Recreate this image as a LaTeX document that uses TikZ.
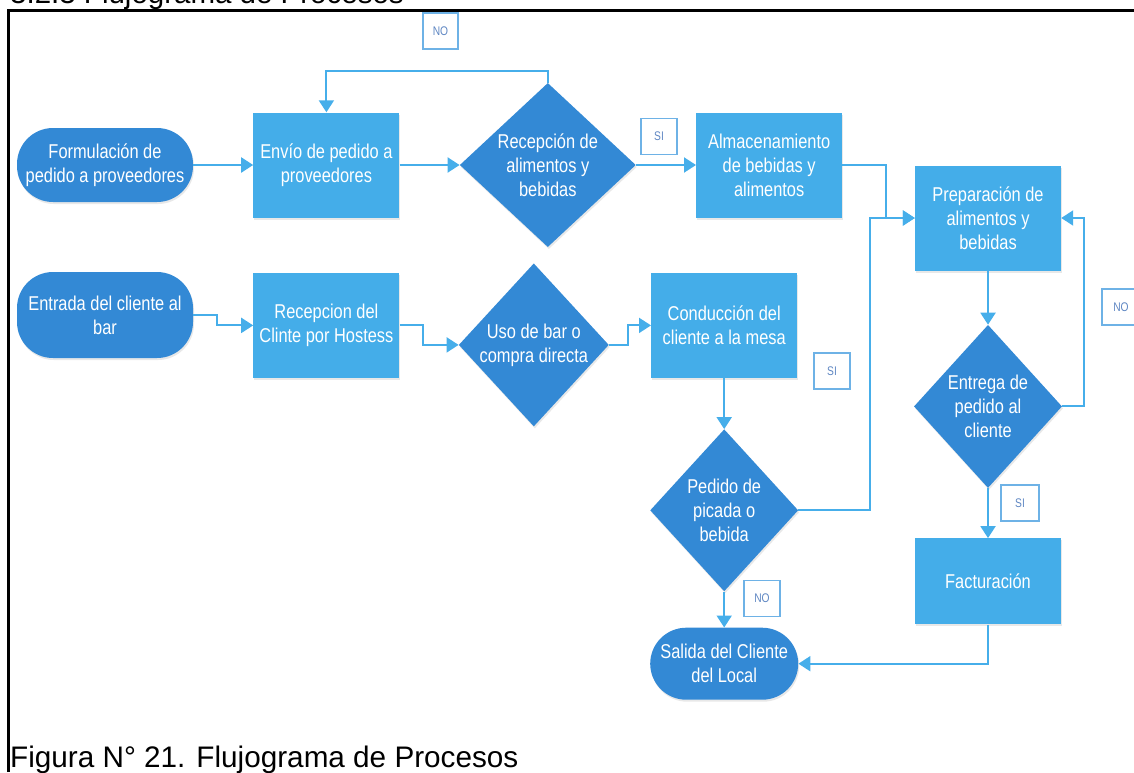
\documentclass[tikz,border=0pt]{standalone}
\usepackage{fontspec}
\setmainfont{Liberation Sans}
\newfontfamily\narrowsf[FakeStretch=0.82]{Liberation Sans}
\usetikzlibrary{arrows.meta, positioning, shapes.geometric, shadows}
\definecolor{nodedark}{RGB}{51,137,213}
\definecolor{nodelight}{RGB}{68,173,233}
\definecolor{linkblue}{RGB}{70,174,234}
\definecolor{tagline}{RGB}{110,178,230}
\definecolor{tagtext}{RGB}{95,135,195}

\begin{document}
\begin{tikzpicture}[
    x=1pt, y=-1pt,
    >={Triangle[length=12pt, width=15pt]},
    base/.style ={align=center, text=white, inner sep=0pt,
                  font=\narrowsf\fontsize{20}{24}\selectfont,
                  drop shadow={shadow xshift=1pt, shadow yshift=-2pt, opacity=0.18}},
    term/.style ={base, fill=nodedark, rounded corners=36pt, minimum width=176pt},
    proc/.style ={base, fill=nodelight, minimum width=146pt, minimum height=105pt},
    dec/.style  ={base, fill=nodedark, diamond, inner sep=-8pt,
                  minimum width=150pt, minimum height=162pt},
    tag/.style  ={draw=tagline, line width=1.3pt, fill=white, text=tagtext,
                  minimum width=36pt, minimum height=36pt, inner sep=0pt,
                  font=\narrowsf\fontsize{12.5}{14}\selectfont},
    flow/.style ={->, draw=linkblue, line width=2pt},
]
\useasboundingbox (0,0) rectangle (1134,772);
% heading cut at the top of the page, and the page frame
\node[anchor=base west, inner sep=0pt, font=\fontsize{29.5}{34}\selectfont] (head) at (10,3) {3.2.3 Flujograma de Procesos};
\draw[line width=2.2pt] (8.5,772) -- (8.5,10.5) -- (1140,10.5);

% supplier row
\node[term, minimum height=74pt] (form) at (105,165) {Formulación de\\pedido a proveedores};
\node[proc, right=60pt of form] (envio) {Envío de pedido a\\proveedores};
\node[dec, right=60pt of envio, minimum width=176pt, minimum height=164pt] (recep) {Recepción de\\alimentos y\\bebidas};
\node[proc, right=60pt of recep] (almac) {Almacenamiento\\de bebidas y\\alimentos};

% kitchen column
\node[proc] (prep) at (988,218) {Preparación de\\alimentos y\\bebidas};
\node[dec, below=54pt of prep, minimum width=148pt, minimum height=163pt] (entrega) {Entrega de\\pedido al\\cliente};
\node[proc, below=50pt of entrega, minimum height=86pt] (fact) {Facturación};

% client row
\node[term, minimum height=86pt] (entra) at (105,315) {Entrada del cliente al\\bar};
\node[proc, below=55pt of envio] (hostess) {Recepcion del\\Clinte por Hostess};
\node[dec, right=59pt of hostess, yshift=-19.5pt, minimum height=163pt] (uso) {Uso de bar o\\compra directa};
\node[proc, right=42pt of uso, yshift=19.5pt] (cond) {Conducción del\\cliente a la mesa};
\node[dec, below=51pt of cond, minimum width=148pt] (pedido) {Pedido de\\picada o\\bebida};
\node[term, below=36pt of pedido, minimum width=148pt, minimum height=72pt] (salida) {Salida del Cliente\\del Local};

% answers
\node[tag, minimum width=35pt] (noTop) at (440.5,31) {NO};
\node[tag] (siA) at (659,136.5) {SI};
\node[tag] (siB) at (832,371) {SI};
\node[tag, minimum width=38pt] (noR) at (1121,307) {NO};
\node[tag, minimum width=38pt] (siC) at (1020,503) {SI};
\node[tag] (noB) at (762,598.5) {NO};

\draw[flow] (form) -- (envio);
\draw[flow] (envio) -- (recep);
\draw[flow] (recep) -- (almac);
\draw[flow] (recep.north) -- ++(0,-12) -| (envio.north);
\draw[flow] (almac.east) -- ++(44,0) |- (prep.west);
\draw[flow] (pedido.east) -- ++(72,0) |- (prep.west);
\draw[flow] (prep) -- (entrega);
\draw[flow] (entrega.east) -- ++(22,0) |- (prep.east);
\draw[flow] (entrega) -- (fact);
\draw[flow] (fact.south) |- (salida.east);
\draw[flow] (entra.east) -- ++(24,0) |- (hostess.west);
\draw[flow] (hostess.east) -- ++(23,0) |- (uso.west);
\draw[flow] (uso.east) -- ++(19,0) |- (cond.west);
\draw[flow] (cond) -- (pedido);
\draw[flow] (pedido) -- (salida);

\node[anchor=base west, inner sep=0pt, font=\fontsize{29.7}{34}\selectfont] (caption) at (10,767) {Figura N° 21. Flujograma de Procesos};
\end{tikzpicture}
\end{document}
